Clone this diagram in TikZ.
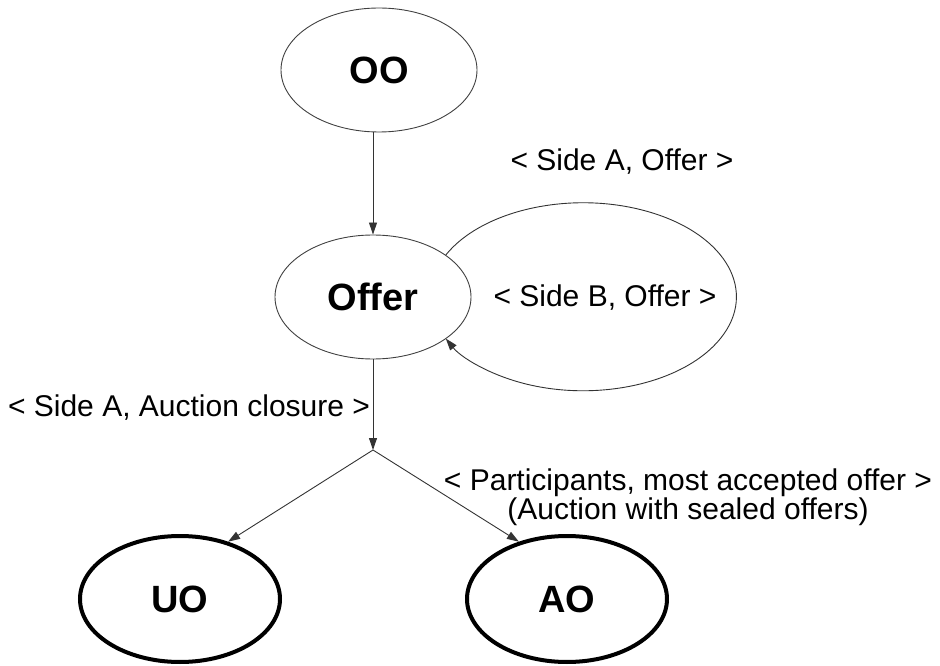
\documentclass[tikz,border=0pt]{standalone}
\usepackage{fontspec}
\setmainfont{Liberation Sans}
\usetikzlibrary{arrows.meta,shapes.geometric}

\begin{document}
\begin{tikzpicture}[x=1pt,y=1pt,
    state/.style={ellipse,draw=black!75,line width=0.9pt,minimum width=196pt,
        minimum height=124pt,inner sep=0pt,font=\fontsize{38}{40}\selectfont\bfseries},
    final/.style={state,draw=black,line width=4pt,minimum width=200pt,minimum height=126pt},
    lbl/.style={font=\fontsize{30}{24}\selectfont,inner sep=0pt,align=center},
    edge/.style={draw=black!80,line width=0.9pt,-{Triangle[length=12pt,width=8pt]}}]
                \useasboundingbox (0,0) rectangle (940,665);
                % States
                \node [state] (oo) at (379,595) {OO};
                \node [state] (offer) at (373,368) {Offer};
                \coordinate (split) at (373,215);
                \node [final] (uo) at (180,66) {UO};
                \node [final] (ao) at (567,66) {AO};
                % Labels
                \node [lbl] (sideaoffer) at (622,503) {< Side A, Offer >};
                \node [lbl] (sideboffer) at (605,367) {< Side B, Offer >};
                \node [lbl] (closure) at (189,257) {< Side A, Auction closure >};
                \node [lbl] (sealed) at (688,168) {< Participants, most accepted offer >\\(Auction with sealed offers)};
                % Transitions
                \draw [edge] (oo.south -| offer.north) -- (offer.north);
                \draw [edge] (offer.30) arc [start angle=153.6, end angle=-153.6, x radius=153.3, y radius=94];
                \draw [edge] (offer.south) -- (split);
                \draw [edge] (split) -- (uo.50);
                \draw [edge] (split) -- (ao.130);
            \end{tikzpicture}
\end{document}
